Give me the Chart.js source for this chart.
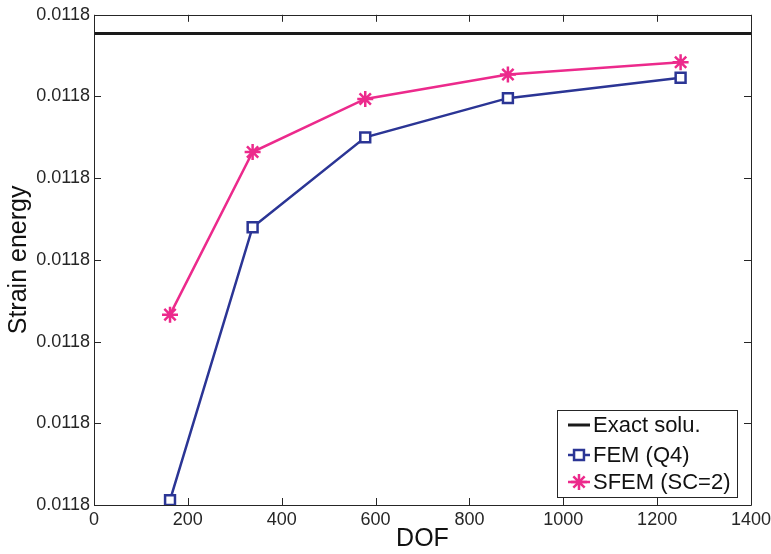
<!DOCTYPE html>
<html lang="en">
<head>
    <meta charset="UTF-8">
    <title>Strain energy vs DOF</title>
    <script src="https://cdn.jsdelivr.net/npm/chart.js"></script>
    <style>
        body {
            margin: 0;
            padding: 0;
            background: #fff;
        }
        #wrap {
            width: 771px;
            height: 554px;
        }
    </style>
</head>
<body>
    <div id="wrap">
        <canvas id="energyChart" width="771" height="554"></canvas>
    </div>
    <script>
        // values
        const dofFem = [162, 338, 578, 882, 1250];
        const energyFem = [0.0117806, 0.0118140, 0.0118250, 0.0118298, 0.0118323];
        const dofSfem = [162, 338, 578, 882, 1250];
        const energySfem = [0.0118033, 0.0118232, 0.0118297, 0.0118327, 0.0118342];
        const exactRange = [0, 1400];
        const exactEnergy = 0.0118377;
        const xTicks = [0, 200, 400, 600, 800, 1000, 1200, 1400];
        const yMin = 0.01178, yMax = 0.01184, yStep = 0.00001;

        const axisColor = '#262626';
        const femColor = '#2b3595';
        const sfemColor = '#ec2a8c';
        const fontFamily = '"Liberation Sans", Arial, sans-serif';

        function toPoints(xs, ys) {
            return xs.map((x, i) => ({ x: x, y: ys[i] }));
        }

        // box round the axes with inward ticks, matlab style
        const framePlugin = {
            id: 'frame',
            afterDatasetsDraw(chart) {
                const ctx = chart.ctx;
                const a = chart.chartArea;
                const xs = chart.scales.x, ys = chart.scales.y;
                const len = 7;
                ctx.save();
                ctx.strokeStyle = axisColor;
                ctx.lineWidth = 1;
                ctx.beginPath();
                ctx.rect(Math.round(a.left) + 0.5, Math.round(a.top) + 0.5,
                         Math.round(a.right - a.left), Math.round(a.bottom - a.top));
                xs.ticks.forEach(t => {
                    const px = Math.round(xs.getPixelForValue(t.value)) + 0.5;
                    ctx.moveTo(px, a.bottom); ctx.lineTo(px, a.bottom - len);
                    ctx.moveTo(px, a.top); ctx.lineTo(px, a.top + len);
                });
                ys.ticks.forEach(t => {
                    const py = Math.round(ys.getPixelForValue(t.value)) + 0.5;
                    ctx.moveTo(a.left, py); ctx.lineTo(a.left + len, py);
                    ctx.moveTo(a.right, py); ctx.lineTo(a.right - len, py);
                });
                ctx.stroke();
                ctx.restore();
            }
        };

        // legend box inside the lower right corner
        const boxLegend = {
            id: 'boxLegend',
            afterDraw(chart) {
                const ctx = chart.ctx;
                const a = chart.chartArea;
                const w = 180, h = 87;
                const left = a.right - 14 - w, top = a.bottom - 8 - h;
                ctx.save();
                ctx.fillStyle = '#fff';
                ctx.fillRect(left, top, w, h);
                ctx.strokeStyle = axisColor;
                ctx.lineWidth = 1;
                ctx.strokeRect(Math.round(left) + 0.5, Math.round(top) + 0.5, w, h);
                ctx.font = '22px ' + fontFamily;
                ctx.textBaseline = 'middle';
                const rows = [15, 45, 72];
                chart.data.datasets.forEach((ds, i) => {
                    const y = top + rows[i];
                    ctx.strokeStyle = ds.borderColor;
                    ctx.lineWidth = ds.borderWidth;
                    ctx.beginPath();
                    ctx.moveTo(left + 11, y);
                    ctx.lineTo(left + 33, y);
                    ctx.stroke();
                    if (ds.pointRadius > 0) {
                        ctx.fillStyle = ds.pointBackgroundColor;
                        ctx.strokeStyle = ds.borderColor;
                        ctx.lineWidth = ds.pointBorderWidth;
                        Chart.helpers.drawPoint(ctx, {
                            pointStyle: ds.pointStyle,
                            radius: ds.pointRadius,
                            borderWidth: ds.pointBorderWidth
                        }, left + 22, y);
                    }
                    ctx.fillStyle = '#111';
                    ctx.fillText(ds.label, left + 36, y + 1);
                });
                ctx.restore();
            }
        };

        const ctx = document.getElementById('energyChart').getContext('2d');
        new Chart(ctx, {
            type: 'scatter',
            data: {
                datasets: [
                    {
                        label: 'Exact solu.',
                        data: exactRange.map(x => ({ x: x, y: exactEnergy })),
                        showLine: true,
                        borderColor: '#1a1a1a',
                        borderWidth: 3,
                        pointRadius: 0
                    },
                    {
                        label: 'FEM (Q4)',
                        data: toPoints(dofFem, energyFem),
                        showLine: true,
                        borderColor: femColor,
                        borderWidth: 2.5,
                        pointStyle: 'rect',
                        pointRadius: 7,
                        pointBorderWidth: 2.5,
                        pointBackgroundColor: '#fff',
                        pointBorderColor: femColor
                    },
                    {
                        label: 'SFEM (SC=2)',
                        data: toPoints(dofSfem, energySfem),
                        showLine: true,
                        borderColor: sfemColor,
                        borderWidth: 2.5,
                        pointStyle: 'star',
                        pointRadius: 8,
                        pointBorderWidth: 2.5,
                        pointBackgroundColor: sfemColor,
                        pointBorderColor: sfemColor
                    }
                ]
            },
            options: {
                responsive: false,
                animation: false,
                layout: { padding: { top: 14, right: 20, left: 0, bottom: 0 } },
                plugins: {
                    legend: { display: false },
                    tooltip: { enabled: false }
                },
                scales: {
                    x: {
                        type: 'linear',
                        min: 0,
                        max: 1400,
                        afterBuildTicks: scale => {
                            scale.ticks = xTicks.map(v => ({ value: v }));
                        },
                        afterFit: scale => {
                            scale.height = 49;
                            // let the last label hang into the right margin
                            scale.paddingLeft = 0;
                            scale.paddingRight = 0;
                        },
                        grid: { display: false, drawTicks: false },
                        border: { display: false },
                        ticks: {
                            color: axisColor,
                            padding: 4,
                            maxRotation: 0,
                            font: { family: fontFamily, size: 18 },
                            callback: v => String(v)
                        },
                        title: {
                            display: true,
                            text: 'DOF',
                            color: '#111',
                            padding: { top: 0, bottom: 0 },
                            font: { family: fontFamily, size: 25 }
                        }
                    },
                    y: {
                        type: 'linear',
                        min: yMin,
                        max: yMax,
                        afterFit: scale => { scale.width = 94; },
                        grid: { display: false, drawTicks: false },
                        border: { display: false },
                        ticks: {
                            stepSize: yStep,
                            color: axisColor,
                            padding: 4,
                            font: { family: fontFamily, size: 18 },
                            callback: v => Number(v).toFixed(4)
                        },
                        title: {
                            display: true,
                            text: 'Strain energy',
                            color: '#111',
                            padding: { top: 4, bottom: 0 },
                            font: { family: fontFamily, size: 25 }
                        }
                    }
                }
            },
            plugins: [framePlugin, boxLegend]
        });
    </script>
</body>
</html>
